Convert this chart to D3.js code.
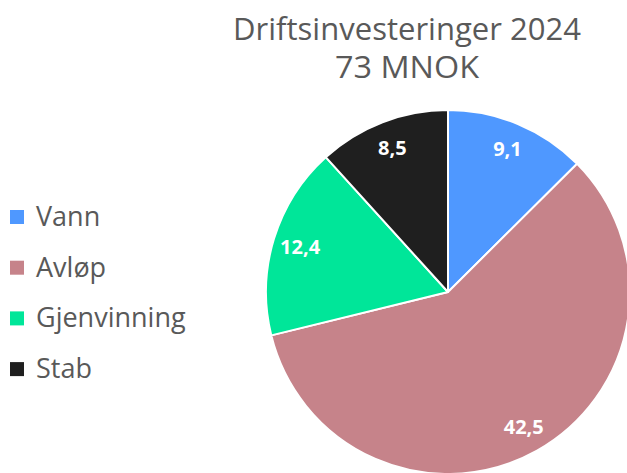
<!DOCTYPE html>
<html><head><meta charset="utf-8">
<script src="https://cdn.jsdelivr.net/npm/d3@7"></script>
<style>body{margin:0;background:#fff}svg{display:block}</style>
</head><body>
<svg id="c" width="627" height="473"></svg>
<script>
const categories = ["Vann", "Avløp", "Gjenvinning", "Stab"];
const values = [9.1, 42.5, 12.4, 8.5];
const colors = ["#4F98FF", "#C6838A", "#00E699", "#1F1F1F"];
const titleLines = ["Driftsinvesteringer 2024", "73 MNOK"];

const svg = d3.select("#c");
const font = "'Open Sans', sans-serif";
const cx = 448, cy = 292, r = 182;

const pie = d3.pie().sort(null).value(d => d)(values);
const arc = d3.arc().innerRadius(0).outerRadius(r);
const labelArc = d3.arc().innerRadius(r * 0.85).outerRadius(r * 0.85);

const g = svg.append("g").attr("transform", `translate(${cx},${cy})`);
g.selectAll("path").data(pie).join("path")
  .attr("d", arc).attr("fill", (d, i) => colors[i])
  .attr("stroke", "#fff").attr("stroke-width", 2).attr("stroke-linejoin", "round");
const fmt = v => d3.format(".1f")(v).replace(".", ",");
g.selectAll("text").data(pie).join("text")
  .attr("transform", d => `translate(${labelArc.centroid(d)})`)
  .attr("text-anchor", "middle").attr("dy", "0.36em")
  .attr("fill", "#fff").attr("font-family", font).attr("font-weight", "bold")
  .attr("font-size", 20).text(d => fmt(d.data));

// title
const tw = [348, 144];
svg.selectAll("text.title").data(titleLines).join("text").attr("class", "title")
  .attr("x", 407).attr("y", (d, i) => 40 + i * 38)
  .attr("text-anchor", "middle").attr("fill", "#595959")
  .attr("font-family", font).attr("font-size", 31)
  .attr("textLength", (d, i) => tw[i]).attr("lengthAdjust", "spacingAndGlyphs")
  .text(d => d);

// legend
const lg = svg.append("g");
const rows = lg.selectAll("g").data(categories).join("g")
  .attr("transform", (d, i) => `translate(10, ${226 + i * 50.7})`);
rows.append("rect").attr("x", 0).attr("y", -16).attr("width", 14).attr("height", 14)
  .attr("fill", (d, i) => colors[i]);
rows.append("text").attr("x", 26).attr("y", 0)
  .attr("fill", "#595959").attr("font-family", font).attr("font-size", 27)
  .text(d => d);
</script>
</body></html>
